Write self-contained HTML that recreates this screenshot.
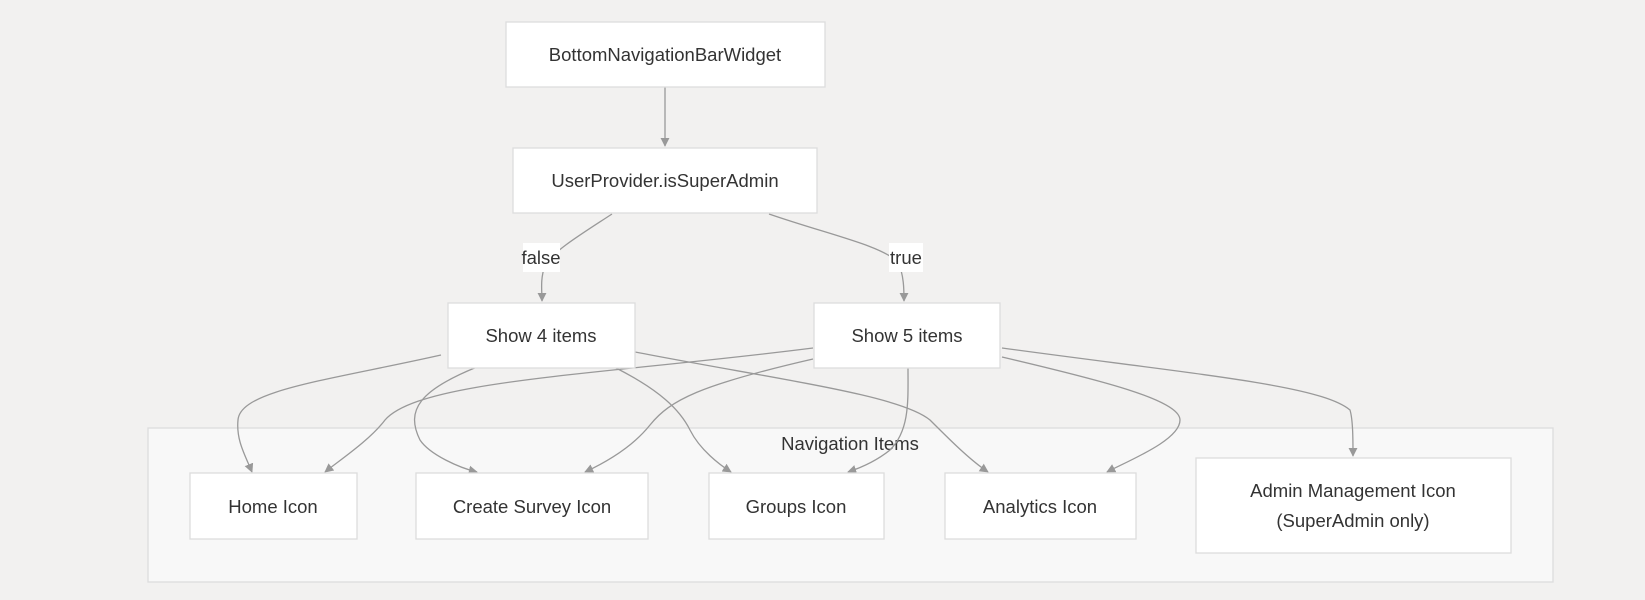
<!DOCTYPE html>
<html><head><meta charset="utf-8"><style>
body{margin:0;background:#f2f1f0;}
svg{display:block;font-family:"Liberation Sans",sans-serif;}
text{font-size:18.5px;fill:#333;text-anchor:middle;}
.n{fill:#fff;stroke:#ddd;stroke-width:1.3;}
.e{fill:none;stroke:#999;stroke-width:1.3;}
</style></head><body>
<svg width="1645" height="600" viewBox="0 0 1645 600">
<defs><marker id="a" viewBox="0 0 10 10" refX="9" refY="5" markerWidth="7" markerHeight="7" orient="auto"><path d="M0,0L10,5L0,10z" fill="#999"/></marker></defs>
<rect x="148" y="428" width="1405" height="154" fill="#f8f8f8" stroke="#ddd" stroke-width="1.3"/>
<text x="850" y="450">Navigation Items</text>

<path class="e" d="M665,87 L665,146" marker-end="url(#a)"/>
<path class="e" d="M612,214 C580,235 555,250 545,265 C540,280 542,290 542,301" marker-end="url(#a)"/>
<path class="e" d="M769,214 C830,235 880,245 898,262 C904,275 904,290 904,301" marker-end="url(#a)"/>

<path class="e" d="M441,355 C330,380 240,390 238,420 C236,440 245,455 252,472" marker-end="url(#a)"/>
<path class="e" d="M477,367 C420,390 405,410 420,440 C430,455 460,468 477,472" marker-end="url(#a)"/>
<path class="e" d="M614,367 C660,390 680,410 690,430 C700,450 720,465 731,472" marker-end="url(#a)"/>
<path class="e" d="M635,352 C780,380 900,395 930,420 C950,440 970,460 988,472" marker-end="url(#a)"/>
<path class="e" d="M813,348 C600,375 420,380 385,420 C370,440 340,460 325,472" marker-end="url(#a)"/>
<path class="e" d="M813,359 C700,385 670,400 650,425 C630,450 600,465 585,472" marker-end="url(#a)"/>
<path class="e" d="M908,368 C908,400 910,430 890,450 C875,462 860,468 848,472" marker-end="url(#a)"/>
<path class="e" d="M1002,357 C1100,380 1180,400 1180,420 C1180,440 1130,460 1107,472" marker-end="url(#a)"/>
<path class="e" d="M1002,348 C1200,375 1320,385 1350,410 C1353,420 1353,440 1353,456" marker-end="url(#a)"/>

<rect class="n" x="506" y="22" width="319" height="65"/><text x="665" y="61">BottomNavigationBarWidget</text>
<rect class="n" x="513" y="148" width="304" height="65"/><text x="665" y="187">UserProvider.isSuperAdmin</text>
<rect x="523" y="243" width="37" height="29" fill="#fff"/><text x="541" y="264">false</text>
<rect x="889" y="243" width="34" height="29" fill="#fff"/><text x="906" y="264">true</text>
<rect class="n" x="448" y="303" width="187" height="65"/><text x="541" y="342">Show 4 items</text>
<rect class="n" x="814" y="303" width="186" height="65"/><text x="907" y="342">Show 5 items</text>

<rect class="n" x="190" y="473" width="167" height="66"/><text x="273" y="513">Home Icon</text>
<rect class="n" x="416" y="473" width="232" height="66"/><text x="532" y="513">Create Survey Icon</text>
<rect class="n" x="709" y="473" width="175" height="66"/><text x="796" y="513">Groups Icon</text>
<rect class="n" x="945" y="473" width="191" height="66"/><text x="1040" y="513">Analytics Icon</text>
<rect class="n" x="1196" y="458" width="315" height="95"/><text x="1353" y="497">Admin Management Icon</text><text x="1353" y="527">(SuperAdmin only)</text>
</svg>
</body></html>
